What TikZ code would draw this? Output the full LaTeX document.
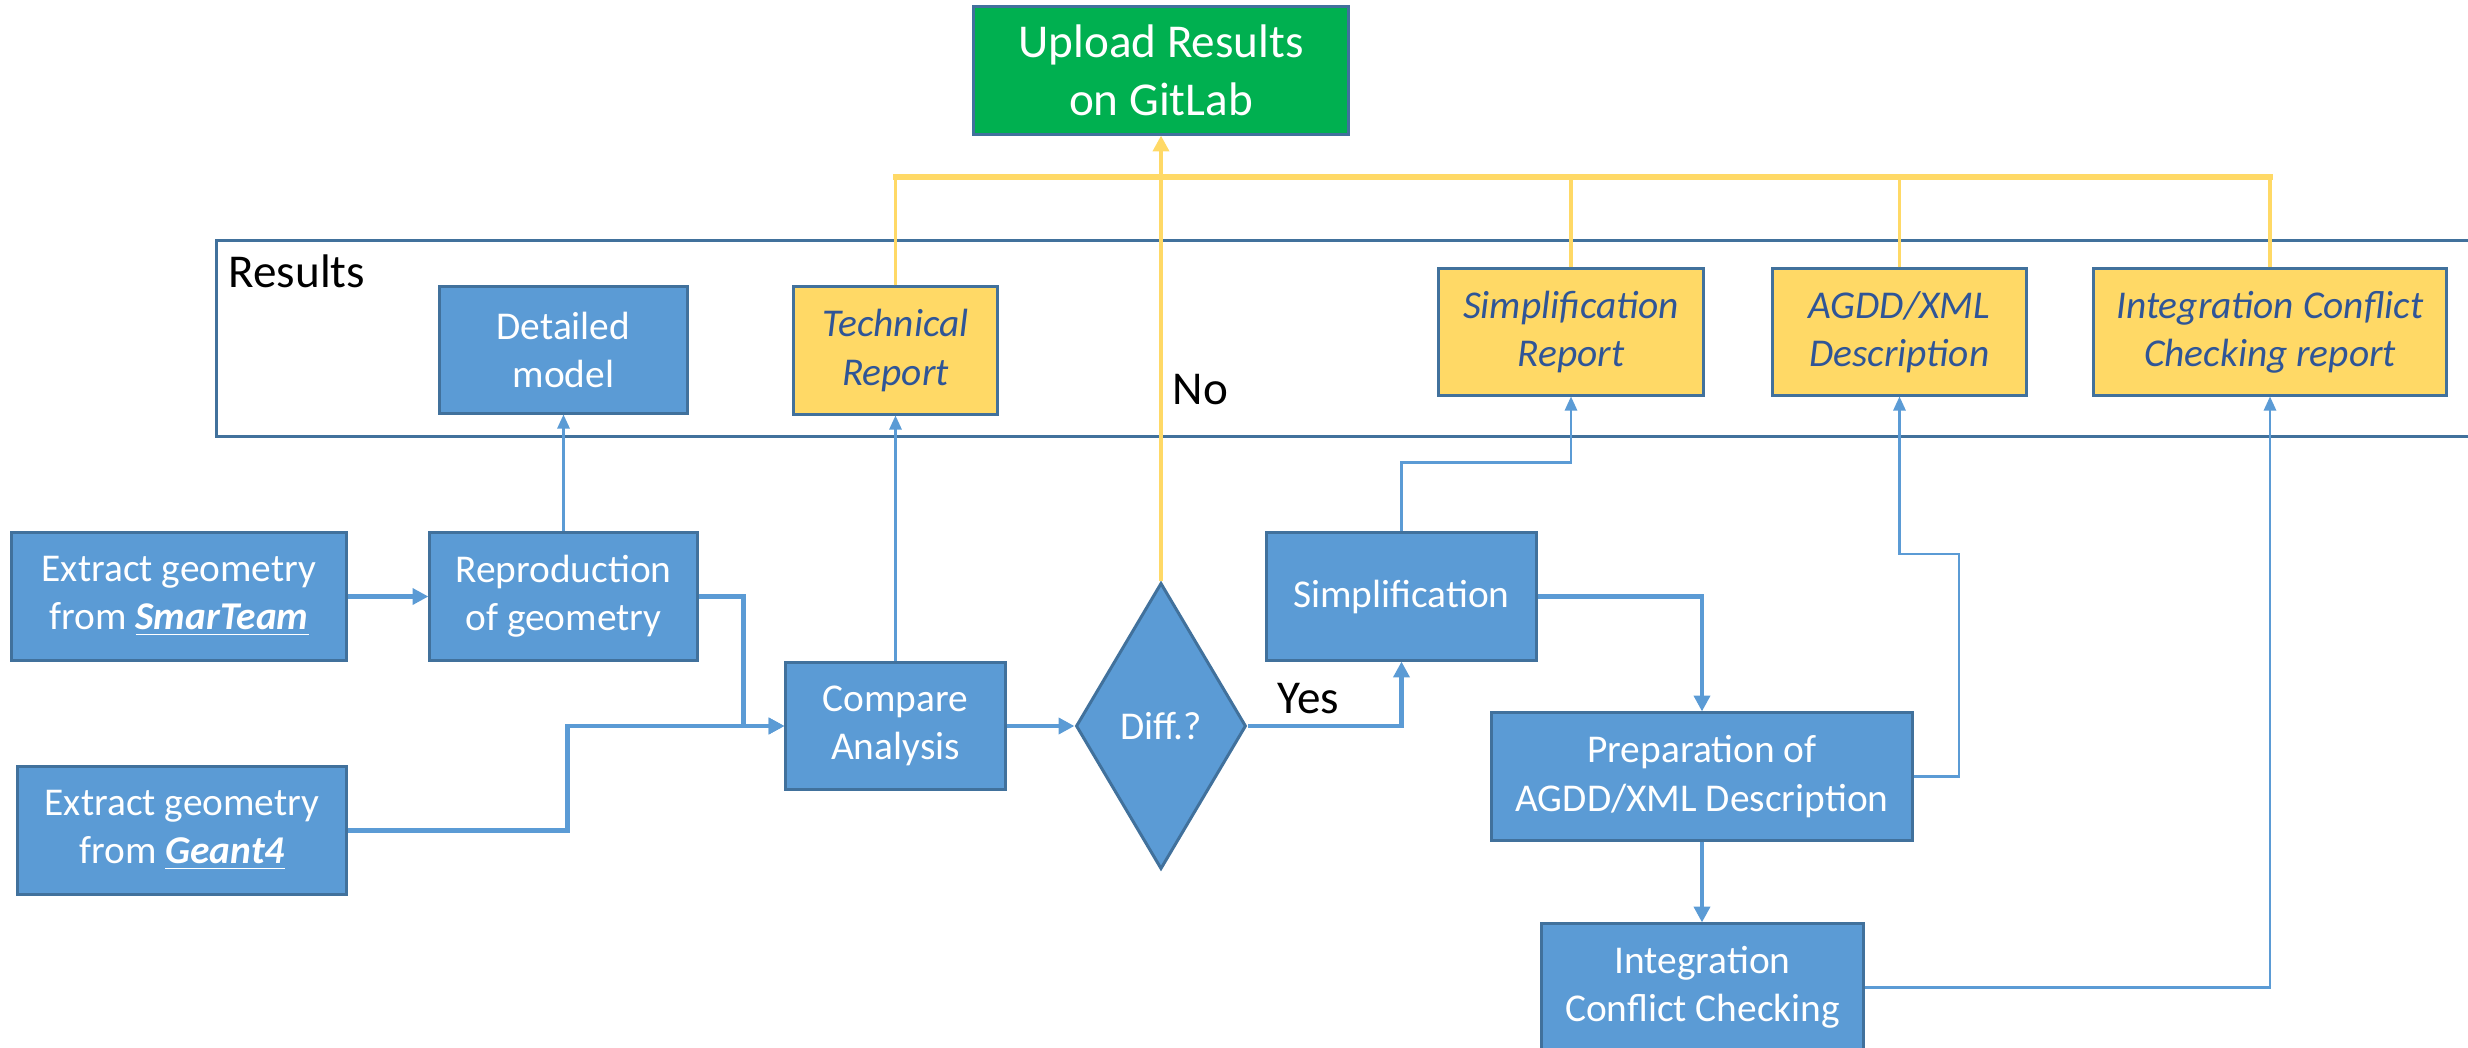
\documentclass[tikz,border=0pt]{standalone}
\usepackage{fontspec}
\setmainfont{Carlito}
\usetikzlibrary{shapes.geometric,arrows.meta,calc}
\definecolor{boxblue}{HTML}{5B9BD5}
\definecolor{edgeblue}{HTML}{41719C}
\definecolor{repyellow}{HTML}{FFD966}
\definecolor{reptext}{HTML}{2F5597}
\definecolor{upgreen}{HTML}{00B050}
\begin{document}
\begin{tikzpicture}[x=0.01cm,y=-0.01cm,
  boxtext/.style={font=\fontsize{11.2}{13.7}\selectfont, align=center, inner sep=0pt},
  bluebox/.style={boxtext, draw=edgeblue, line width=0.85pt, fill=boxblue, text=white},
  repbox/.style={boxtext, draw=edgeblue, line width=0.85pt, fill=repyellow, text=reptext, font=\fontsize{11.2}{13.7}\selectfont\itshape},
  greenbox/.style={draw=edgeblue, line width=0.85pt, fill=upgreen, text=white, align=center, inner sep=0pt, font=\fontsize{13.4}{16.5}\selectfont},
  framebox/.style={draw=edgeblue, line width=0.85pt, inner sep=0pt},
  labeltext/.style={font=\fontsize{13.4}{16.5}\selectfont, text=black, inner sep=0pt},
  thickflow/.style={draw=boxblue, line width=1.4pt, -{Triangle[length=4.5pt,width=4.5pt]}},
  thinflow/.style={draw=boxblue, line width=0.6pt, -{Triangle[length=4pt,width=3.5pt]}},
  ybus/.style={draw=repyellow, line width=1.5pt, line cap=rect},
  ybranch/.style={draw=repyellow, line width=0.9pt},
  yflow/.style={draw=repyellow, line width=1.1pt, -{Triangle[length=4.5pt,width=4.5pt]}}
]
\useasboundingbox (0,0) rectangle (2468,1048);

% results frame
\node[framebox, minimum width=22.73cm, minimum height=1.95cm] (frame) at (1353.5,338.5) {};
\node[labeltext, anchor=base west] (reslabel) at (228,287) {Results};

% top
\node[greenbox, minimum width=3.74cm, minimum height=1.27cm] (upload) at (1161,70.5) {Upload Results\\on GitLab};

% results boxes
\node[bluebox, minimum width=2.47cm, minimum height=1.26cm] (detailed) at (563.5,350) {Detailed\\model};
\node[repbox, minimum width=2.03cm, minimum height=1.27cm] (techrep) at (895.5,350.5) {Technical\\Report};
\node[repbox, minimum width=2.64cm, minimum height=1.26cm] (simprep) at (1571,332) {Simplification\\Report};
\node[repbox, minimum width=2.53cm, minimum height=1.26cm] (agdd) at (1899.5,332) {AGDD/XML\\Description};
\node[repbox, minimum width=3.52cm, minimum height=1.26cm] (icrep) at (2270,332) {Integration Conflict\\Checking report};

% process boxes
\node[bluebox, minimum width=3.34cm, minimum height=1.27cm] (smarteam) at (179,596.5) {Extract geometry\\from \underline{\textbf{\textit{SmarTeam}}}};
\node[bluebox, minimum width=2.67cm, minimum height=1.27cm] (repro) at (563.5,596.5) {Reproduction\\of geometry};
\node[bluebox, minimum width=3.28cm, minimum height=1.27cm] (geant) at (182,830.5) {Extract geometry\\from \underline{\textbf{\textit{Geant4}}}};
\node[bluebox, minimum width=2.19cm, minimum height=1.26cm] (compare) at (895.5,726) {Compare\\Analysis};
\node[diamond, draw=edgeblue, line width=0.85pt, fill=boxblue, text=white, inner sep=0pt, minimum width=1.7cm, minimum height=2.86cm, font=\fontsize{11.2}{13.7}\selectfont] (diff) at (1161,726) {Diff.?};
\node[bluebox, minimum width=2.69cm, minimum height=1.27cm] (simp) at (1401.5,596.5) {Simplification};
\node[bluebox, minimum width=4.2cm, minimum height=1.27cm] (prep) at (1702,776.5) {Preparation of\\AGDD/XML Description};
\node[bluebox, minimum width=3.21cm, minimum height=1.27cm] (integ) at (1702.5,987.5) {Integration\\Conflict Checking};

% labels
\node[labeltext, anchor=base west] (nolabel) at (1172,404) {No};
\node[labeltext, anchor=base west] (yeslabel) at (1277,713) {Yes};

% thick flow
\draw[thickflow] (smarteam.east) -- (repro.west);
\draw[thickflow] (repro.east) -- ++(45,0) |- (compare.west);
\draw[thickflow] (geant.east) -- ++(220,0) |- (compare.west);
\draw[thickflow] (compare.east) -- (diff.west);
\draw[thickflow] (diff.east) -| (simp.south);
\draw[thickflow] (simp.east) -| (prep.north);
\draw[thickflow] (prep.south) -- (prep.south |- integ.north);

% thin flow to results
\draw[thinflow] (repro.north) -- (detailed.south);
\draw[thinflow] (compare.north) -- (techrep.south);
\draw[thinflow] (simp.north) -- ++(0,-69) -| (simprep.south);
\coordinate (agddbend) at (1959,554);
\draw[thinflow] (prep.east) -| (agddbend) -| (agdd.south);
\draw[thinflow] (integ.east) -| (icrep.south);

% yellow
\coordinate (busy) at (0,177);
\draw[ybranch] (techrep.north) -- (techrep.north |- busy);
\draw[ybranch] (simprep.north) -- (simprep.north |- busy);
\draw[ybranch] (agdd.north) -- (agdd.north |- busy);
\draw[ybranch] (icrep.north) -- (icrep.north |- busy);
\draw[ybus] (techrep.north |- busy) -- (icrep.north |- busy);
\draw[yflow] (diff.north) -- (upload.south);
\end{tikzpicture}
\end{document}
